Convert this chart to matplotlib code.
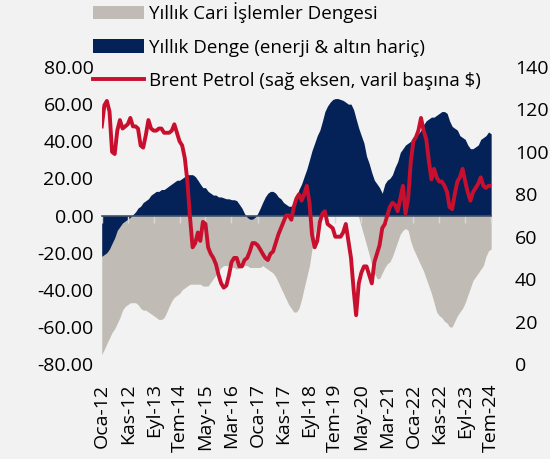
import matplotlib
matplotlib.use("Agg")
import matplotlib.pyplot as plt
from matplotlib.ticker import FormatStrFormatter, FixedLocator
import pandas as pd

plt.rcParams['font.family'] = ['Open Sans', 'DejaVu Sans']

# monthly, Oca-12 .. Tem-24
dates = pd.date_range("2012-01-01", periods=151, freq="MS")

cari = [-75, -72, -69, -66, -63, -61, -58, -55, -51, -49,
        -48, -47, -47, -47, -48, -50, -51, -51, -52, -53,
        -54, -55, -56, -56, -55, -52, -49, -46, -44, -43,
        -42, -40, -39, -38, -37, -37, -37, -37, -37, -38,
        -38, -38, -36, -34, -32, -30, -28, -27, -27, -27,
        -28, -28, -29, -28, -28, -27, -27, -28, -28, -28,
        -28, -28, -27, -28, -29, -30, -31, -33, -36, -39,
        -42, -45, -48, -50, -52, -52, -50, -45, -39, -33,
        -27, -18, -10, -4, 0, 3, 5, 6, 7, 7,
        8, 8, 7, 7, 6, 5, 4, 3, 1, -1,
        -6, -11, -16, -21, -27, -31, -34, -34, -31, -28,
        -26, -25, -22, -18, -14, -10, -8, -7, -8, -14,
        -18, -21, -24, -27, -30, -34, -38, -42, -47, -52,
        -54, -55, -57, -58, -60, -60, -57, -54, -52, -50,
        -47, -43, -39, -35, -33, -31, -29, -27, -22, -19, -18]

denge = [-22, -21, -20, -18, -15, -12, -8, -6, -4, -3,
         -2, -1, 0.5, 2, 4, 5, 7, 8, 9, 11,
         12, 13, 13, 14, 14, 15, 16, 17, 18, 19,
         19, 20, 21, 22, 22, 22, 21, 19, 17, 15,
         15, 13, 12, 11, 11, 10, 10, 9.5, 9, 9,
         8.5, 8.5, 8, 6, 4, 1, -1, -2, -2, -1,
         1, 4, 7, 10, 12, 13, 13, 12, 10, 9,
         7, 6, 5, 5, 7, 10, 14, 17, 21, 25,
         30, 35, 39, 43, 46, 51, 56, 59, 61, 62.5,
         63, 63, 62.5, 62, 61, 60, 60, 57, 52, 47,
         43, 39, 32, 28, 23, 19, 17, 15, 12, 17,
         19, 20, 22, 26, 29, 34, 36, 38, 39, 40,
         41, 43, 44, 46, 49, 51, 52, 53, 53, 54,
         55, 56, 56, 55, 51, 48, 47, 46, 43, 42,
         41, 38, 36, 36, 37, 38, 41, 42, 43, 45, 44]

brent = [112, 122, 124, 119, 100, 99, 110, 115, 111, 112,
         113, 116, 112, 112, 111, 103, 102, 108, 115, 111,
         110, 110, 111, 111, 109, 109, 109, 110, 113, 109,
         105, 103, 97, 86, 69, 55, 57, 62, 58, 67,
         66, 55, 52, 50, 47, 42, 38, 36, 37, 42,
         48, 50, 50, 46, 46, 49, 50, 53, 57, 57,
         56, 54, 52, 50, 49, 52, 53, 57, 61, 64,
         67, 70, 70, 68, 74, 78, 80, 77, 80, 84,
         76, 61, 55, 58, 67, 71, 72, 66, 65, 64,
         60, 60, 60, 62, 66, 58, 50, 35, 23, 38,
         43, 46, 46, 42, 38, 48, 52, 56, 64, 66,
         70, 74, 76, 75, 72, 78, 84, 71, 78, 95,
         105, 107, 110, 116, 110, 106, 96, 87, 92, 88,
         86, 86, 84, 81, 74, 73, 80, 86, 88, 92,
         86, 81, 77, 81, 83, 85, 88, 84, 83, 84, 84]

tick_labels = ["Oca-12", "Kas-12", "Eyl-13", "Tem-14", "May-15", "Mar-16",
               "Oca-17", "Kas-17", "Eyl-18", "Tem-19", "May-20", "Mar-21",
               "Oca-22", "Kas-22", "Eyl-23", "Tem-24"]
tick_dates = dates[::10]

bg = "#f2f2f2"
fs = 14
fig = plt.figure(figsize=(5.5, 4.59), dpi=100, facecolor=bg)
ax = fig.add_axes([0.185, 0.207, 0.708, 0.647])
ax.set_facecolor(bg)

ax.fill_between(dates, cari, 0, color="#c0bbb5", lw=0, label="Yıllık Cari İşlemler Dengesi")
ax.fill_between(dates, denge, 0, color="#052258", lw=0, label="Yıllık Denge (enerji & altın hariç)")

ax.set_xlim(dates[0], dates[-1])
ax.set_ylim(-80, 80)
ax.set_yticks(range(-80, 81, 20))
ax.yaxis.set_major_formatter(FormatStrFormatter("%.2f"))
ax.tick_params(axis="y", length=0, labelsize=fs, pad=6)

for s in ["top", "right", "left"]:
    ax.spines[s].set_visible(False)
ax.spines["bottom"].set_position(("data", 0))
ax.spines["bottom"].set_color("#44546a")
ax.spines["bottom"].set_linewidth(1.2)
ax.xaxis.set_major_locator(FixedLocator(matplotlib.dates.date2num(tick_dates)))
ax.tick_params(axis="x", length=5, width=1, color="#d9d9d9", labelbottom=False)

# date labels at the bottom of the plot
sec = ax.secondary_xaxis(0)
sec.set_xticks(tick_dates, tick_labels, rotation=90)
sec.tick_params(length=0, labelsize=fs, pad=14)
sec.spines["bottom"].set_visible(False)

ax2 = ax.twinx()
ax2.plot(dates, brent, color="#c8102e", lw=2.8, label="Brent Petrol (sağ eksen, varil başına $)")
ax2.set_ylim(0, 140)
ax2.set_yticks(range(0, 141, 20))
ax2.tick_params(axis="y", length=0, labelsize=fs, pad=17)
for s in ax2.spines.values():
    s.set_visible(False)

h1, l1 = ax.get_legend_handles_labels()
h2, l2 = ax2.get_legend_handles_labels()
fig.legend(h1 + h2, l1 + l2, loc="upper left", bbox_to_anchor=(0.169, 0.995),
           frameon=False, fontsize=13.5, handlelength=2.7, handletextpad=0.3,
           labelspacing=0.82, borderpad=0, borderaxespad=0)

fig.savefig("out.png", dpi=100, facecolor=bg)
